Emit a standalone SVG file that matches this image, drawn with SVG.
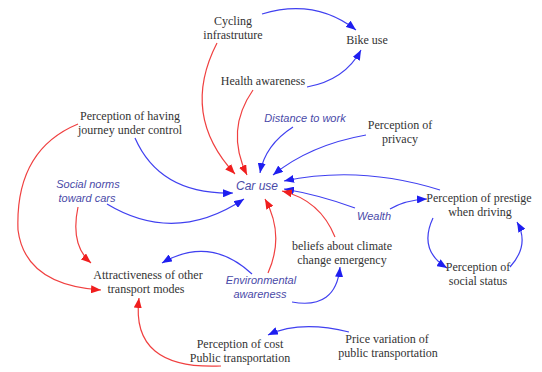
<svg xmlns="http://www.w3.org/2000/svg" width="542" height="372" viewBox="0 0 542 372">
  <style>
    .lbl { font-family: "Liberation Serif", "Times New Roman", serif; font-size: 12px; fill: #333; text-anchor: middle; }
    .var { font-family: "Liberation Sans", Arial, sans-serif; font-size: 11px; font-style: italic; fill: #4a4aa8; text-anchor: middle; }
    .pos { fill: none; stroke: #4040f0; stroke-width: 1.2; marker-end: url(#ab); }
    .neg { fill: none; stroke: #f04040; stroke-width: 1.2; marker-end: url(#ar); }
  </style>
  <defs>
    <marker id="ab" viewBox="0 0 10 8" refX="10" refY="4" markerWidth="10" markerHeight="8" markerUnits="userSpaceOnUse" orient="auto">
      <path d="M0,0 L10,4 L0,8 Z" fill="#1e1ef0"/>
    </marker>
    <marker id="ar" viewBox="0 0 10 8" refX="10" refY="4" markerWidth="10" markerHeight="8" markerUnits="userSpaceOnUse" orient="auto">
      <path d="M0,0 L10,4 L0,8 Z" fill="#f01e1e"/>
    </marker>
  </defs>
  <rect width="542" height="372" fill="#fff"/>

  <g id="connectors">
    <!-- cycling infrastructure / health to bike use -->
    <path class="pos" d="M262,14 Q315,-2 356,30"/>
    <path class="pos" d="M307,87 Q345,80 361,50"/>
    <!-- inputs into car use -->
    <path class="neg" d="M217,43 Q180,115 235,174"/>
    <path class="neg" d="M253,90 Q225,130 247,175"/>
    <path class="pos" d="M293,127 Q265,145 260,173"/>
    <path class="pos" d="M366,135 Q310,145 273,175"/>
    <path class="pos" d="M440,190 Q360,165 284,181"/>
    <path class="pos" d="M355,208 Q320,195 284,189"/>
    <path class="neg" d="M335,237 Q320,200 282,191"/>
    <path class="neg" d="M268,273 Q285,235 265,199"/>
    <path class="pos" d="M135,138 Q160,195 233,193"/>
    <path class="pos" d="M107,204 Q175,245 244,199"/>
    <!-- prestige loop -->
    <path class="pos" d="M390,209 Q405,200 427,199"/>
    <path class="pos" d="M433,218 Q418,250 447,268"/>
    <path class="pos" d="M510,267 Q530,245 517,222"/>
    <!-- environmental awareness -->
    <path class="pos" d="M292,302 Q336,310 340,267"/>
    <path class="pos" d="M252,274 Q210,235 162,263"/>
    <!-- attractiveness of other transport modes -->
    <path class="neg" d="M78,207 Q70,245 91,263"/>
    <path class="neg" d="M78,124 Q15,150 18,230 Q25,285 101,290"/>
    <path class="neg" d="M221,366 Q130,370 139,298"/>
    <!-- price variation to cost -->
    <path class="pos" d="M349,332 Q300,320 268,335"/>
  </g>

  <g id="cycling"><text class="lbl" x="233" y="25">Cycling</text><text class="lbl" x="233" y="39">infrastruture</text></g>
  <g id="bike"><text class="lbl" x="367" y="44">Bike use</text></g>
  <g id="health"><text class="lbl" x="263" y="85">Health awareness</text></g>
  <g id="distance"><text class="var" x="305" y="122">Distance to work</text></g>
  <g id="journey"><text class="lbl" x="130" y="120">Perception of having</text><text class="lbl" x="130" y="134">journey under control</text></g>
  <g id="privacy"><text class="lbl" x="400" y="129">Perception of</text><text class="lbl" x="400" y="143">privacy</text></g>
  <g id="car"><text class="var" x="257" y="190" style="font-size:12px">Car use</text></g>
  <g id="norms"><text class="var" x="88" y="188">Social norms</text><text class="var" x="87" y="202">toward cars</text></g>
  <g id="wealth"><text class="var" x="374" y="220">Wealth</text></g>
  <g id="prestige"><text class="lbl" x="479" y="202">Perception of prestige</text><text class="lbl" x="480" y="216">when driving</text></g>
  <g id="beliefs"><text class="lbl" x="342" y="250">beliefs about climate</text><text class="lbl" x="342" y="264">change emergency</text></g>
  <g id="attract"><text class="lbl" x="148" y="279">Attractiveness of other</text><text class="lbl" x="146" y="293">transport modes</text></g>
  <g id="env"><text class="var" x="261" y="284">Environmental</text><text class="var" x="260" y="298">awareness</text></g>
  <g id="status"><text class="lbl" x="478" y="271">Perception of</text><text class="lbl" x="478" y="285">social status</text></g>
  <g id="cost"><text class="lbl" x="240" y="348">Perception of cost</text><text class="lbl" x="240" y="362">Public transportation</text></g>
  <g id="price"><text class="lbl" x="387" y="343">Price variation of</text><text class="lbl" x="388" y="357">public transportation</text></g>
</svg>
